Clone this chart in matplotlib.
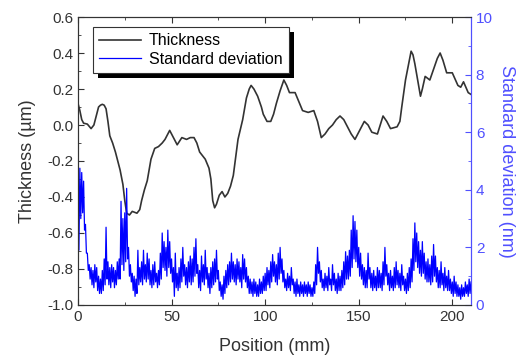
import numpy as np
import matplotlib.pyplot as plt
from matplotlib.ticker import MultipleLocator
from matplotlib.patches import Rectangle
from matplotlib.transforms import IdentityTransform

plt.rcParams['font.family'] = ['Liberation Sans', 'DejaVu Sans']

# espesor (um)
pos_t = [0, 1, 2, 3, 5, 7, 8.5, 10, 11, 12, 13, 14, 15, 16, 17, 18.5, 20, 22.5, 24, 25, 26,
         27.5, 29, 31.5, 33, 34, 35.5, 37, 39, 41, 43, 45, 46.5, 48, 49, 50, 51, 53, 55.5,
         58, 60, 62, 63.5, 65, 68, 70, 71, 72, 73, 74, 75.5, 77, 78.5, 80, 81.5, 83, 85.5,
         88, 90, 91.5, 92.5, 94, 96, 98, 99, 101, 103, 104.5, 106, 108, 110, 111.5, 113,
         116, 118, 120, 123, 126, 128, 130, 132, 134, 136, 138, 140, 142, 144, 146, 148,
         150, 153, 155, 157, 160, 163, 165, 167, 170.5, 172, 173, 175, 176.5, 178, 179,
         180, 181.5, 183, 184, 185.5, 188, 190, 192, 193.5, 195, 197, 200, 203, 204.5,
         206, 208.5, 210]
thick = [0.12, 0.08, 0.03, 0.01, 0.005, -0.02, 0.0, 0.06, 0.1, 0.11, 0.115, 0.11, 0.09,
         0.02, -0.06, -0.1, -0.15, -0.25, -0.33, -0.42, -0.49, -0.5, -0.48, -0.49, -0.47,
         -0.42, -0.36, -0.31, -0.19, -0.13, -0.12, -0.1, -0.08, -0.05, -0.03, -0.05, -0.07,
         -0.11, -0.07, -0.08, -0.07, -0.07, -0.1, -0.15, -0.19, -0.24, -0.3, -0.42, -0.46,
         -0.44, -0.39, -0.37, -0.4, -0.38, -0.34, -0.28, -0.08, 0.03, 0.15, 0.2, 0.22,
         0.2, 0.16, 0.1, 0.06, 0.02, 0.02, 0.06, 0.12, 0.19, 0.25, 0.22, 0.18, 0.18, 0.13,
         0.08, 0.07, 0.08, 0.02, -0.07, -0.05, -0.02, 0.0, 0.03, 0.05, 0.03, -0.01, -0.05,
         -0.08, -0.04, 0.02, 0.0, -0.04, -0.05, 0.05, 0.02, -0.02, -0.01, 0.02, 0.1, 0.25,
         0.33, 0.41, 0.39, 0.34, 0.25, 0.16, 0.2, 0.27, 0.25, 0.31, 0.37, 0.4, 0.36, 0.29,
         0.29, 0.22, 0.21, 0.24, 0.18, 0.17]

# desviacion estandar (nm): envolvente superior e inferior cada 1 mm
sd_high = [4.3, 4.75, 4.6, 4.3, 2.8, 1.8, 1.4, 1.3, 1.2, 1.4, 1.3, 1.0, 0.9, 1.2, 1.6, 2.7,
           1.5, 1.3, 1.4, 1.3, 1.2, 1.5, 1.6, 3.6, 3.0, 3.2, 4.05, 2.0, 1.4, 1.1, 1.0, 0.9,
           1.9, 1.3, 1.5, 1.9, 1.4, 1.8, 1.6, 1.2, 1.4, 1.5, 1.1, 1.2, 1.8, 2.5, 2.2, 2.0,
           2.6, 2.2, 1.6, 1.3, 1.8, 1.1, 1.3, 1.6, 2.0, 1.4, 1.3, 1.5, 1.7, 1.6, 2.0, 2.3,
           1.4, 1.2, 1.7, 1.4, 1.9, 1.3, 1.1, 1.3, 1.5, 1.6, 1.9, 1.2, 0.8, 0.7, 1.0, 1.2,
           1.4, 1.5, 1.8, 1.5, 1.4, 1.6, 1.5, 1.3, 1.75, 1.6, 1.3, 1.0, 0.9, 0.8, 0.9, 0.8,
           0.7, 0.9, 0.8, 1.0, 1.1, 1.3, 1.2, 1.5, 1.75, 1.5, 1.4, 1.8, 2.0, 1.6, 1.2, 0.9,
           1.1, 1.0, 1.3, 0.9, 0.8, 0.9, 0.7, 0.8, 0.7, 0.8, 0.7, 0.8, 0.7, 0.6, 0.8, 1.4,
           2.0, 1.5, 1.2, 0.9, 1.1, 1.0, 1.3, 0.9, 1.4, 1.1, 0.9, 1.1, 1.0, 1.2, 1.5, 1.85,
           1.7, 1.9, 2.6, 3.1, 2.9, 2.6, 2.0, 1.8, 1.4, 1.3, 1.2, 1.8, 1.3, 1.1, 1.2, 1.0,
           1.3, 1.2, 1.1, 1.5, 2.0, 1.4, 1.1, 1.2, 1.0, 1.3, 1.5, 1.2, 1.1, 1.4, 1.0, 0.9,
           1.1, 1.3, 1.6, 2.3, 2.85, 2.5, 2.2, 1.9, 2.2, 1.8, 1.5, 1.6, 1.4, 1.7, 2.1, 1.7,
           1.3, 1.2, 1.5, 1.1, 1.3, 1.0, 1.2, 0.9, 0.8, 1.0, 0.8, 0.7, 0.6, 0.7, 0.6, 0.8,
           0.7, 0.9, 0.8]
sd_low = [1.9, 3.0, 3.2, 2.6, 1.8, 1.2, 0.9, 0.7, 0.6, 0.8, 0.5, 0.4, 0.4, 0.5, 0.7, 0.9,
          0.7, 0.6, 0.8, 0.6, 0.7, 0.9, 0.9, 1.4, 1.2, 1.5, 1.6, 1.0, 0.8, 0.5, 0.3, 0.4,
          0.7, 0.8, 0.7, 0.9, 0.8, 0.9, 0.7, 0.6, 0.7, 0.8, 0.6, 0.7, 0.9, 1.3, 1.2, 1.0,
          1.3, 1.1, 0.8, 0.3, 0.6, 0.5, 0.6, 0.8, 1.0, 0.7, 0.6, 0.8, 0.7, 0.8, 1.0, 1.1,
          0.6, 0.5, 0.8, 0.7, 0.9, 0.6, 0.4, 0.6, 0.7, 0.8, 0.9, 0.5, 0.3, 0.2, 0.4, 0.6,
          0.7, 0.8, 0.9, 0.8, 0.7, 0.9, 0.8, 0.6, 0.9, 0.8, 0.6, 0.4, 0.4, 0.3, 0.4, 0.3,
          0.3, 0.4, 0.4, 0.5, 0.5, 0.7, 0.6, 0.8, 1.0, 0.8, 0.7, 0.9, 1.1, 0.8, 0.6, 0.5,
          0.6, 0.5, 0.7, 0.4, 0.3, 0.4, 0.3, 0.4, 0.3, 0.4, 0.3, 0.4, 0.3, 0.3, 0.4, 0.7,
          1.1, 0.8, 0.6, 0.5, 0.6, 0.5, 0.7, 0.5, 0.7, 0.5, 0.4, 0.5, 0.5, 0.6, 0.7, 0.9,
          0.9, 1.0, 1.3, 1.6, 1.5, 1.3, 1.0, 0.9, 0.7, 0.6, 0.6, 0.9, 0.6, 0.5, 0.6, 0.5,
          0.6, 0.6, 0.5, 0.7, 1.0, 0.7, 0.5, 0.6, 0.5, 0.6, 0.7, 0.6, 0.5, 0.7, 0.5, 0.4,
          0.5, 0.6, 0.8, 1.2, 1.5, 1.3, 1.1, 1.0, 1.1, 0.9, 0.8, 0.8, 0.7, 0.8, 1.0, 0.8,
          0.6, 0.6, 0.7, 0.5, 0.6, 0.5, 0.5, 0.4, 0.3, 0.4, 0.3, 0.3, 0.2, 0.3, 0.3, 0.4,
          0.3, 0.4, 0.4]

# intercalar alto/bajo para el ruido
pos_sd = []
sd = []
for i in range(len(sd_high)):
    pos_sd += [i, i + 0.5]
    sd += [sd_high[i], sd_low[i]]
pos_sd = pos_sd[:-1]
sd = sd[:-1]

gris = '#333333'
azul = '#0000ff'
azul_eje = '#5050ff'

fig = plt.figure(figsize=(5.22, 3.62), dpi=100)
ax = fig.add_axes([0.1494, 0.1575, 0.7529, 0.7955])
ax2 = ax.twinx()

l1, = ax.plot(pos_t, thick, color=gris, lw=1.2, label='Thickness')
l2, = ax2.plot(pos_sd, sd, color=azul, lw=0.9, label='Standard deviation')

ax.set_xlim(0, 210)
ax.set_ylim(-1.0, 0.6)
ax2.set_ylim(0, 10)

ax.xaxis.set_major_locator(MultipleLocator(50))
ax.xaxis.set_minor_locator(MultipleLocator(25))
ax.yaxis.set_major_locator(MultipleLocator(0.2))
ax.yaxis.set_minor_locator(MultipleLocator(0.1))
ax2.yaxis.set_major_locator(MultipleLocator(2))
ax2.yaxis.set_minor_locator(MultipleLocator(1))
ax.yaxis.set_major_formatter(plt.FormatStrFormatter('%.1f'))

ax.tick_params(which='both', direction='in', top=True, labelsize=11, colors=gris)
ax.tick_params(which='major', length=4)
ax.tick_params(which='minor', length=2.5)
ax2.tick_params(which='both', direction='in', labelsize=11, colors=azul_eje)
ax2.tick_params(which='major', length=4)
ax2.tick_params(which='minor', length=2.5)

for s in ['left', 'bottom', 'top']:
    ax.spines[s].set_color(gris)
    ax2.spines[s].set_color(gris)
ax2.spines['right'].set_color(azul_eje)
ax.spines['right'].set_color(azul_eje)

ax.set_xlabel('Position (mm)', fontsize=13, color=gris, labelpad=10)
ax.set_ylabel('Thickness (\u00b5m)', fontsize=13, color=gris, labelpad=8)
ax2.set_ylabel('Standard deviation (nm)', fontsize=13, color=azul_eje,
               rotation=270, labelpad=16)

leg = ax2.legend(handles=[l1, l2], loc='upper left', bbox_to_anchor=(0.038, 0.965),
                 borderaxespad=0, fontsize=11.5, fancybox=False, framealpha=1,
                 edgecolor=gris, handlelength=2.6, handletextpad=0.5,
                 borderpad=0.4, labelspacing=0.2)
leg.get_frame().set_linewidth(0.8)

# sombra negra de la leyenda
fig.canvas.draw()
bb = leg.get_window_extent()
sombra = Rectangle((bb.x0 + 5, bb.y0 - 5), bb.width, bb.height, transform=IdentityTransform(),
                   facecolor='black', edgecolor='none', zorder=4.9)
ax2.add_artist(sombra)

fig.savefig('out.png', dpi=100)
